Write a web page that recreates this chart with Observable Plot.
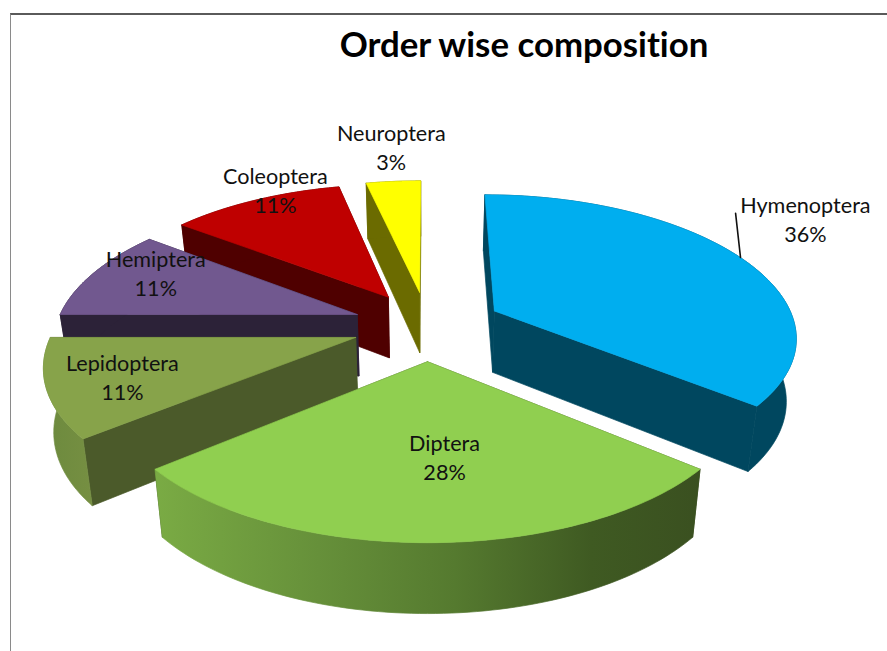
<!DOCTYPE html>
<html>
<head>
<meta charset="utf-8">
<script src="https://cdn.jsdelivr.net/npm/d3@7"></script>
<script src="https://cdn.jsdelivr.net/npm/@observablehq/plot@0.6"></script>
<style>
html,body{margin:0;padding:0;background:#fff;overflow:hidden}
#page{position:relative;width:887px;height:651px;font-family:Lato,"Open Sans",sans-serif}
#frame{position:absolute;left:10px;top:12.5px;right:0;bottom:0;border-top:2px solid #5a5a5a;border-left:1.5px solid #8a8a8a;pointer-events:none}
#title{position:relative;height:80px;box-sizing:border-box;padding-top:23px;text-align:center;padding-left:161px;font-size:34.8px;font-weight:700;line-height:42px;color:#000;white-space:nowrap;font-variant-ligatures:none}
svg{display:block;background:transparent}
</style>
</head>
<body>
<div id="page"><div id="title">Order wise composition</div><div id="chart"></div><div id="frame"></div></div>
<script>
// Data
const orders = ["Hymenoptera", "Diptera", "Lepidoptera", "Hemiptera", "Coleoptera", "Neuroptera"];
const shares = [36, 28, 11, 10.4, 11.1, 3.5];
const percentLabels = ["36%", "28%", "11%", "11%", "11%", "3%"];
const topColors = ["#00aeef", "#90cf50", "#87a34a", "#71588f", "#bf0000", "#ffff00"];
const wallColors = ["#00475f", "#3c5220", "#4b5a2a", "#2c2238", "#4f0000", "#6b6b00"];
const rimColors = ["#00475f", "url(#dipteraRim)", "url(#lepidRim)", "#2c2238", "#4f0000", "#6b6b00"];
const labelRadius = [1.426, 0.582, 0.768, 0.79, 1.046, 1.356];
const labelAngle = [58.1, 175.2, 249.1, 293.3, 333.4, 354.7];
const paintOrder = ["Neuroptera", "Coleoptera", "Hemiptera", "Lepidoptera", "Hymenoptera", "Diptera"];

// 3D exploded-pie view
const view = {xc: 427, yc: 325, A: 301, B: 139, kx: 0.168, ky: 0.16, explode: 0.25, lean: 0.973, drop: 62};
const rad = d => d * Math.PI / 180;
const project = (u, v, low) => {
  const sx = 1 / (1 + view.kx * v), sy = 1 / (1 + view.ky * v);
  const x = view.A * u * sx, y = view.B * v * sy;
  return low
    ? {x: view.xc + x * view.lean, y: view.yc - y + view.drop * Math.pow(sy, 0.6)}
    : {x: view.xc + x, y: view.yc - y};
};

let cum = 0;
const slices = orders.map((name, i) => {
  const a0 = cum * 3.6; cum += shares[i]; const a1 = cum * 3.6;
  const mid = rad((a0 + a1) / 2);
  return {name, i, share: shares[i], a0, a1,
    ox: view.explode * Math.sin(mid), oy: view.explode * Math.cos(mid)};
});
const world = (sl, r, deg, low) =>
  project(sl.ox + r * Math.sin(rad(deg)), sl.oy + r * Math.cos(rad(deg)), low);
const arc = (sl, low) => d3.range(sl.a0, sl.a1 + 0.0001, (sl.a1 - sl.a0) / 80).map(d => world(sl, 1, d, low));
const apex = (sl, low) => world(sl, 0, 0, low);

const poly = (pts, fill) => Plot.line(pts, {x: "x", y: "y", fill, stroke: fill, strokeWidth: 0.7, curve: "linear"});
const closed = pts => [...pts, pts[0]];
const marks = [];
for (const name of paintOrder) {
  const sl = slices.find(d => d.name === name);
  const top = arc(sl, false), low = arc(sl, true);
  const wall = wallColors[sl.i];
  marks.push(poly(closed([apex(sl,false), top[top.length-1], low[low.length-1], apex(sl,true)]), wall));
  marks.push(poly(closed([apex(sl,false), top[0], low[0], apex(sl,true)]), wall));
  marks.push(poly(closed([...top, ...low.slice().reverse()]), rimColors[sl.i]));
  marks.push(poly(closed([apex(sl,false), ...top]), topColors[sl.i]));
}
// Leader line of the Hymenoptera label
marks.push(Plot.line([world(slices[0], 1.001, 64.9), world(slices[0], 1.26, 49.4)],
  {x: "x", y: "y", stroke: "#111", strokeWidth: 1.6}));
// Labels
const labels = slices.map(sl => ({...world(sl, labelRadius[sl.i], labelAngle[sl.i]), text: `${sl.name}\n${percentLabels[sl.i]}`}));
marks.push(Plot.text(labels, {x: "x", y: "y", text: "text", fontSize: 21.6, lineHeight: 1.34, dy: -2, fill: "#111", textAnchor: "middle", fontFamily: "Lato"}));

const plot = Plot.plot({
  width: 887, height: 571, margin: 0,
  style: {fontFamily: "Lato"},
  x: {domain: [0, 887], axis: null},
  y: {domain: [651, 80], axis: null},
  marks
});
const defs = d3.select(plot).insert("defs", ":first-child");
const grad = (id, stops) => {
  const g = defs.append("linearGradient").attr("id", id).attr("x1", 0).attr("x2", 1).attr("y1", 0).attr("y2", 0);
  stops.forEach(([o, c]) => g.append("stop").attr("offset", o).attr("stop-color", c));
};
grad("dipteraRim", [[0, "#7aab44"], [0.3, "#66903a"], [0.55, "#557a2f"], [0.8, "#3f5a22"], [1, "#3a5020"]]);
grad("lepidRim", [[0, "#6c8a3e"], [1, "#768f42"]]);
document.getElementById("chart").appendChild(plot);
</script>
</body>
</html>
